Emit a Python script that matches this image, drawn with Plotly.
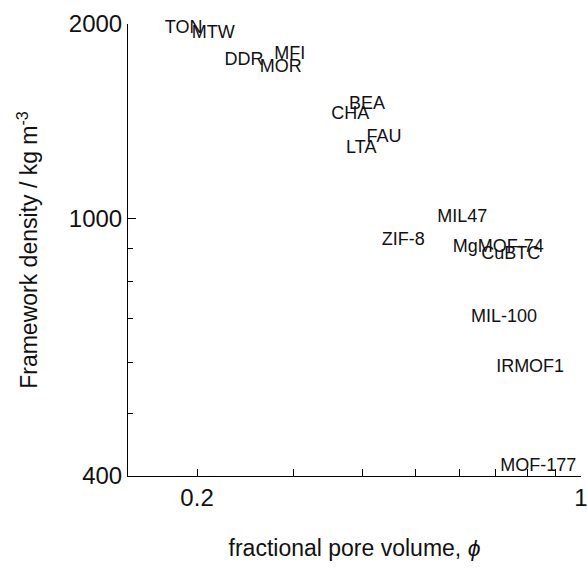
import plotly.graph_objects as go

names = ["TON", "MTW", "DDR", "MFI", "MOR", "BEA", "CHA", "FAU", "LTA",
         "MIL47", "ZIF-8", "MgMOF-74", "CuBTC", "MIL-100", "IRMOF1", "MOF-177"]
pore_volume = [0.189, 0.214, 0.2435, 0.295, 0.284, 0.408, 0.380, 0.438, 0.398,
               0.608, 0.4745, 0.707, 0.745, 0.724, 0.808, 0.836]
density = [1969, 1933, 1759, 1796, 1713, 1504, 1448, 1336, 1286,
           1005, 925, 903, 879, 704, 589, 414]

x_tickvals = [0.2, 1]
x_ticktext = ["0.2", "1"]
x_minor = [0.3, 0.4, 0.5, 0.6, 0.7, 0.8, 0.9]
y_tickvals = [400, 1000, 2000]
y_ticktext = ["400", "1000", "2000"]
y_minor = [500, 600, 700, 800, 900]

FONT = "Liberation Sans, Arial, sans-serif"

fig = go.Figure(go.Scatter(
    x=pore_volume, y=density, mode="text", text=names,
    textposition="middle center",
    textfont=dict(family=FONT, size=18, color="#111"),
    cliponaxis=False, hoverinfo="skip"))

fig.update_layout(
    width=587, height=569,
    margin=dict(l=128, r=6, t=24, b=93),
    plot_bgcolor="white", paper_bgcolor="white",
    showlegend=False,
    font=dict(family=FONT, color="#111"),
)
fig.update_xaxes(
    type="log", range=[-0.8247, 0.0], showgrid=False, zeroline=False,
    showline=True, linecolor="black", linewidth=1, automargin=False,
    ticks="inside", ticklen=7, tickcolor="black", ticklabeloverflow="allow",
    tickmode="array", tickvals=x_tickvals, ticktext=x_ticktext,
    tickfont=dict(size=24, family=FONT, color="#111"),
    minor=dict(tickmode="array", tickvals=x_minor, ticks="inside", ticklen=7,
               tickcolor="black", showgrid=False),
    title=dict(text="fractional pore volume, <i>ϕ</i>", font=dict(size=23, family=FONT), standoff=30),
)
fig.update_yaxes(
    type="log", range=[2.60206, 3.30103], showgrid=False, zeroline=False,
    showline=True, linecolor="black", linewidth=1, automargin=False,
    ticks="inside", ticklen=8, tickcolor="black", ticklabeloverflow="allow",
    tickmode="array", tickvals=y_tickvals, ticktext=y_ticktext,
    tickfont=dict(size=24, family=FONT, color="#111"),
    minor=dict(tickmode="array", tickvals=y_minor, ticks="inside", ticklen=5,
               tickcolor="black", showgrid=False),
    title=dict(text="Framework density / kg m<sup>-3</sup>", font=dict(size=23, family=FONT), standoff=24),
)

fig.write_html("out.html")
